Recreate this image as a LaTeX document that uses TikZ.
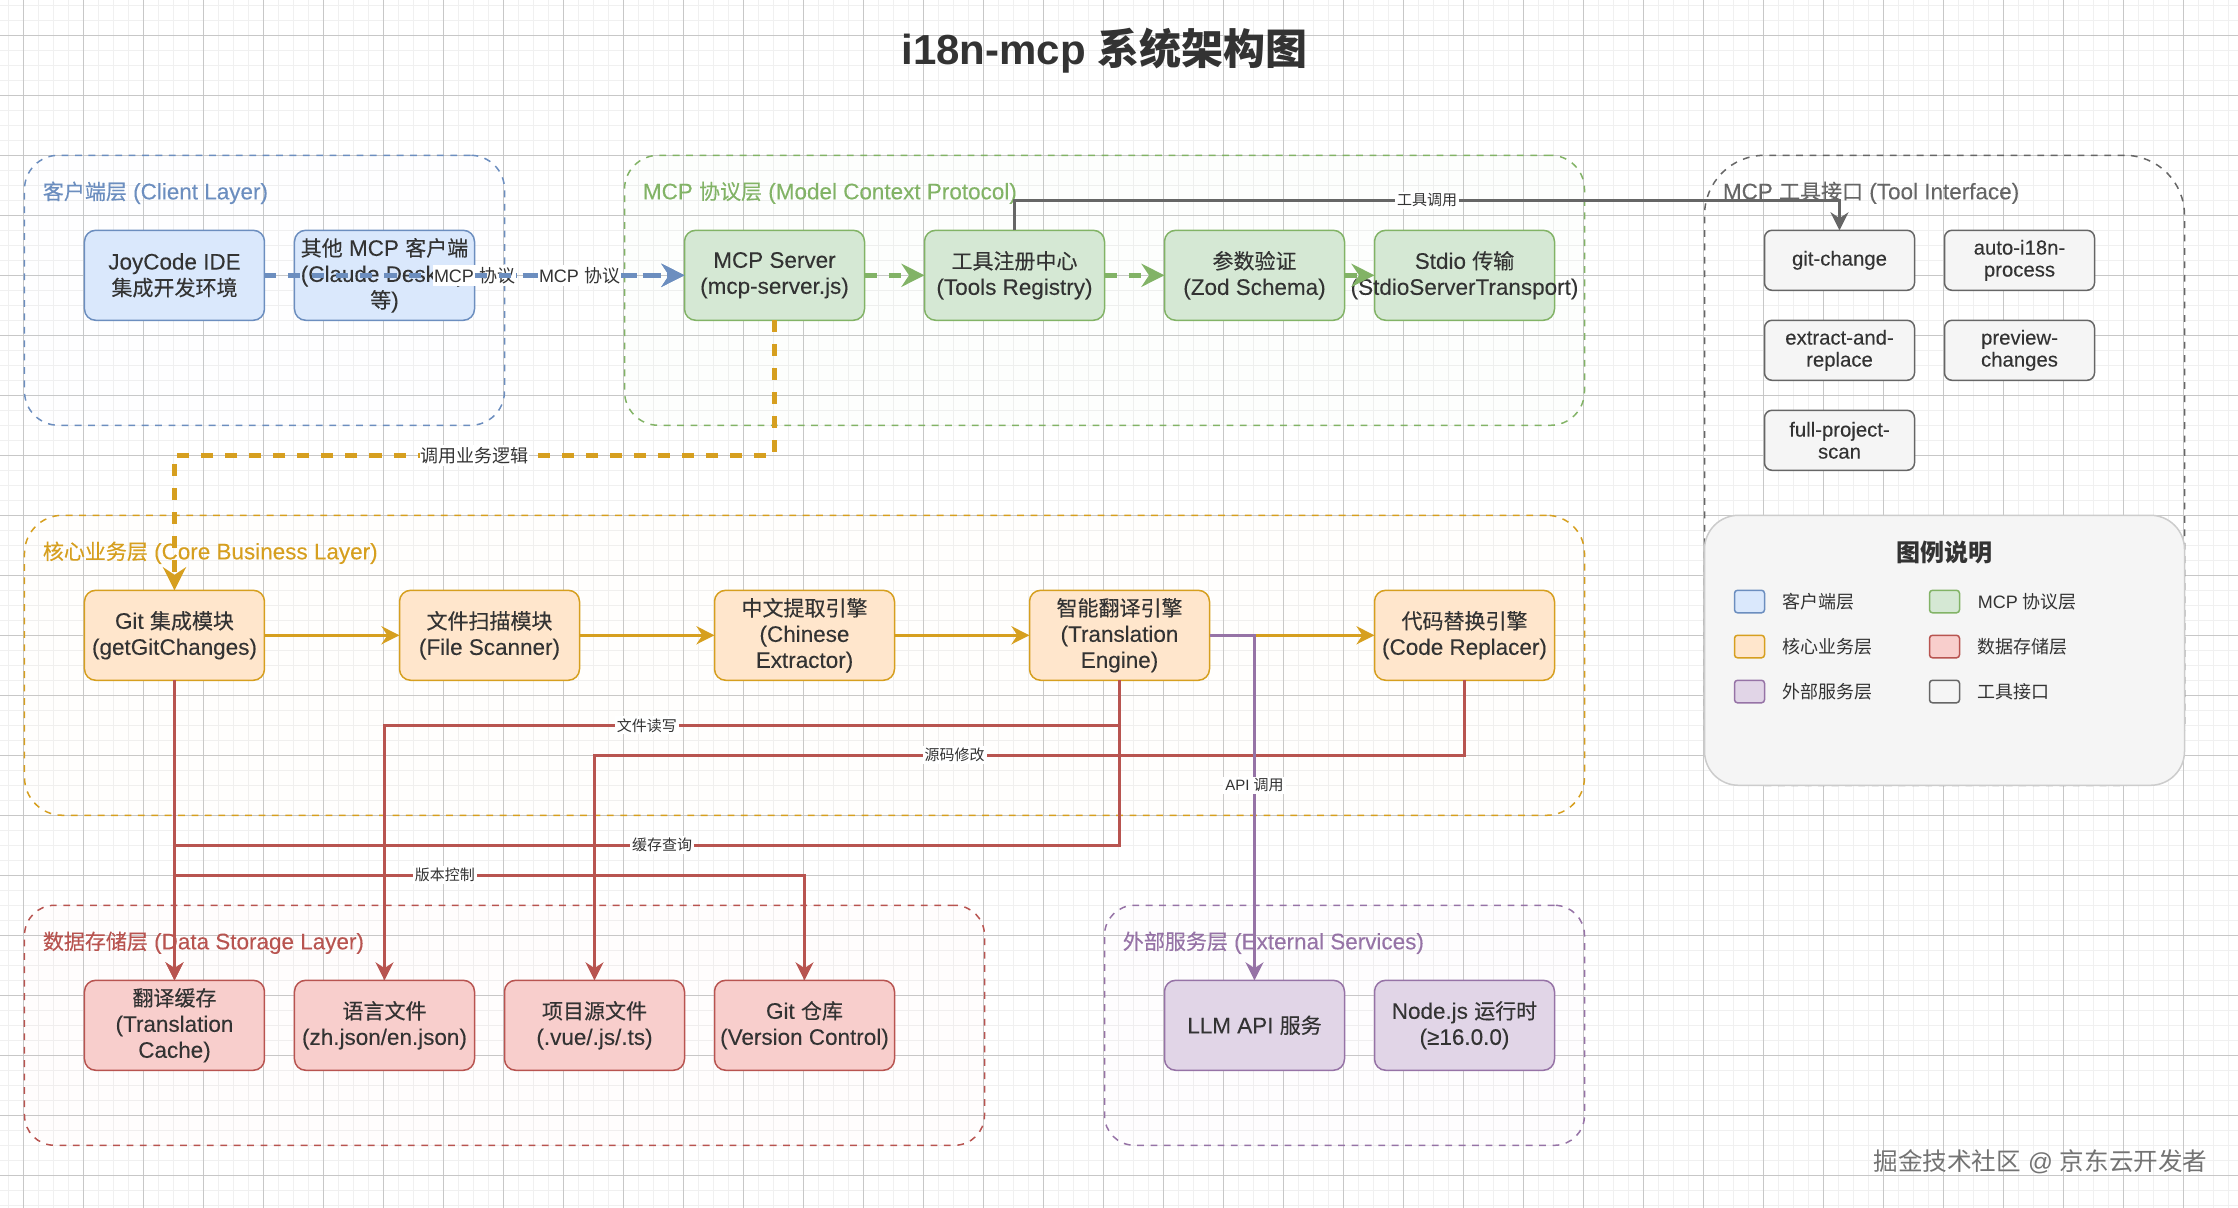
\documentclass[tikz,border=0pt]{standalone}
\usepackage{fontspec}
\usetikzlibrary{positioning,arrows.meta}
\setmainfont{Liberation Sans}
\newfontfamily\cnplain{Noto Sans CJK SC}
\newfontfamily\cnmed[FakeBold=.25]{Noto Sans CJK SC}
\newfontfamily\mainmed[FakeBold=.15,Scale=1.07]{Liberation Sans}
\let\cnfont\cnplain
\newcommand{\cn}[1]{{\cnfont #1}}
\newcommand{\medtext}{\mainmed\let\cnfont\cnmed}
\definecolor{bluefill}{HTML}{DAE8FC}
\definecolor{blueline}{HTML}{6C8EBF}
\definecolor{greenfill}{HTML}{D5E8D4}
\definecolor{greenline}{HTML}{82B366}
\definecolor{goldfill}{HTML}{FFE6CC}
\definecolor{goldline}{HTML}{D69F1F}
\definecolor{redfill}{HTML}{F8CECC}
\definecolor{redline}{HTML}{B85450}
\definecolor{purplefill}{HTML}{E1D5E7}
\definecolor{purpleline}{HTML}{9673A6}
\definecolor{grayfill}{HTML}{F5F5F5}
\definecolor{grayline}{HTML}{666666}
\definecolor{inktext}{HTML}{333333}
\tikzset{
	layerbox/.style={draw=#1,line width=.75pt,dash pattern=on 3.4pt off 3.3pt,fill opacity=.04,inner sep=0pt,outer sep=0pt,anchor=north west},
	layertitle/.style={text=#1,anchor=west,inner sep=0pt,font=\medtext\fontsize{10.5}{13}\selectfont},
	box/.style={draw=#1,rounded corners=5.6pt,line width=.75pt,minimum width=90pt,minimum height=45pt,inner sep=0pt,outer sep=0pt,align=center,text=inktext,font=\medtext\fontsize{10.5}{13}\selectfont},
	toolbox/.style={draw=grayline,fill=grayfill,rounded corners=3.75pt,line width=.75pt,minimum width=75pt,minimum height=30pt,inner sep=0pt,outer sep=0pt,align=center,text=inktext,font=\medtext\fontsize{9.5}{11}\selectfont},
	thickedge/.style={draw=#1,line width=2.25pt,dash pattern=on 6pt off 6pt,-{Stealth[length=11.5pt,width=11.5pt]}},
	solidedge/.style={draw=#1,line width=1.5pt,-{Stealth[length=9pt,width=9pt]}},
	biglabel/.style={fill=white,inner xsep=.4pt,inner ysep=1pt,text=inktext,font=\fontsize{9}{11}\selectfont},
	smalllabel/.style={fill=white,inner sep=1pt,text=inktext,font=\fontsize{7.5}{9}\selectfont},
	swatch/.style={draw=#1,rounded corners=1.5pt,line width=.75pt,minimum width=15pt,minimum height=11.25pt,inner sep=0pt,outer sep=0pt},
	legendtext/.style={text=inktext,anchor=west,inner sep=0pt,font=\fontsize{9}{11}\selectfont},
}
\begin{document}
\begin{tikzpicture}[x=.75pt,y=-.75pt]
	\useasboundingbox (-16.33,-103.53) rectangle (1475.67,701.8);
	\clip (-16.33,-103.53) rectangle (1475.67,701.8);
	\begin{scope}[y=.75pt,xshift=-.5pt]
		\draw[step=10,draw=black!6,line width=.5pt] (-20,-710) grid (1480,110);
		\draw[step=40,draw=black!22,line width=.5pt] (-20,-710) grid (1480,110);
	\end{scope}

	\node[text=inktext,font=\fontsize{21}{25}\selectfont\bfseries] (title) at (720,-70) {i18n-mcp \cn{系统架构图}};

	% layers
	\node[layerbox=blueline,fill=bluefill,rounded corners=17pt,minimum width=240pt,minimum height=135pt] (clientlayer) at (0,0) {};
	\node[layerbox=greenline,fill=greenfill,rounded corners=17pt,minimum width=480pt,minimum height=135pt] (mcplayer) at (400,0) {};
	\node[layerbox=grayline,rounded corners=30pt,minimum width=240pt,minimum height=315pt] (toollayer) at (1120,0) {};
	\node[layerbox=goldline,fill=goldfill,rounded corners=19pt,minimum width=780pt,minimum height=150pt] (corelayer) at (0,240) {};
	\node[layerbox=redline,fill=redfill,rounded corners=15pt,minimum width=480pt,minimum height=120pt] (datalayer) at (0,500) {};
	\node[layerbox=purpleline,fill=purplefill,rounded corners=15pt,minimum width=240pt,minimum height=120pt] (extlayer) at (720,500) {};

	\node[layertitle=blueline] (clienttitle) at (12,25) {\cn{客户端层} (Client Layer)};
	\node[layertitle=greenline] (mcptitle) at (412,25) {MCP \cn{协议层} (Model Context Protocol)};
	\node[layertitle=grayline] (tooltitle) at (1132,25) {MCP \cn{工具接口} (Tool Interface)};
	\node[layertitle=goldline] (coretitle) at (12,265) {\cn{核心业务层} (Core Business Layer)};
	\node[layertitle=redline] (datatitle) at (12,525) {\cn{数据存储层} (Data Storage Layer)};
	\node[layertitle=purpleline] (exttitle) at (732,525) {\cn{外部服务层} (External Services)};

	% client
	\node[box=blueline,fill=bluefill] (joycode) at (100,80) {JoyCode IDE\\\cn{集成开发环境}};
	\node[box=blueline,fill=bluefill,right=15pt of joycode] (otherclient) {\cn{其他} MCP \cn{客户端}\\(Claude Desktop\\\cn{等})};

	% mcp
	\node[box=greenline,fill=greenfill] (server) at (500,80) {MCP Server\\(mcp-server.js)};
	\node[box=greenline,fill=greenfill,right=30pt of server] (registry) {\cn{工具注册中心}\\(Tools Registry)};
	\node[box=greenline,fill=greenfill,right=30pt of registry] (validate) {\cn{参数验证}\\(Zod Schema)};
	\node[box=greenline,fill=greenfill,right=15pt of validate] (stdio) {Stdio \cn{传输}\\\makebox[0pt]{(StdioServerTransport)}};

	% tools
	\node[toolbox] (gitchange) at (1210,70) {git-change};
	\node[toolbox,right=15pt of gitchange] (autoproc) {auto-i18n-\\process};
	\node[toolbox,below=15pt of gitchange] (extract) {extract-and-\\replace};
	\node[toolbox,right=15pt of extract] (preview) {preview-\\changes};
	\node[toolbox,below=15pt of extract] (fullscan) {full-project-\\scan};

	% core
	\node[box=goldline,fill=goldfill] (gitmod) at (100,320) {Git \cn{集成模块}\\(getGitChanges)};
	\node[box=goldline,fill=goldfill,right=67.5pt of gitmod] (scanner) {\cn{文件扫描模块}\\(File Scanner)};
	\node[box=goldline,fill=goldfill,right=67.5pt of scanner] (extractor) {\cn{中文提取引擎}\\(Chinese\\Extractor)};
	\node[box=goldline,fill=goldfill,right=67.5pt of extractor] (engine) {\cn{智能翻译引擎}\\(Translation\\Engine)};
	\node[box=goldline,fill=goldfill,right=82.5pt of engine] (replacer) {\cn{代码替换引擎}\\(Code Replacer)};

	% data
	\node[box=redline,fill=redfill] (cache) at (100,580) {\cn{翻译缓存}\\(Translation\\Cache)};
	\node[box=redline,fill=redfill,right=15pt of cache] (langfile) {\cn{语言文件}\\(zh.json/en.json)};
	\node[box=redline,fill=redfill,right=15pt of langfile] (srcfile) {\cn{项目源文件}\\(.vue/.js/.ts)};
	\node[box=redline,fill=redfill,right=15pt of srcfile] (gitrepo) {Git \cn{仓库}\\(Version Control)};

	% external
	\node[box=purpleline,fill=purplefill] (llm) at (820,580) {LLM API \cn{服务}};
	\node[box=purpleline,fill=purplefill,right=15pt of llm] (nodejs) {Node.js \cn{运行时}\\(≥16.0.0)};

	% edges
	\begin{scope}[yshift=.5pt,xshift=-.25pt]
		\draw[thickedge=blueline] (joycode.east) -- node[biglabel] (labela) {MCP \cn{协议}} (server.west);
		\draw[thickedge=blueline] (otherclient.east) -- node[biglabel] (labelb) {MCP \cn{协议}} (server.west);
		\draw[thickedge=greenline] (server.east) -- (registry.west);
		\draw[thickedge=greenline] (registry.east) -- (validate.west);
		\draw[thickedge=greenline] (validate.east) -- (stdio.west);
		\draw[thickedge=goldline] (server.south) -- ++(0,90) -- node[biglabel] (labelc) {\cn{调用业务逻辑}} ++(-400,0) -- (gitmod.north);
		\draw[solidedge=grayline] (registry.north) -- ++(0,-20) -- node[smalllabel] (labeld) {\cn{工具调用}} ++(550,0) -- (gitchange.north);

		\draw[solidedge=goldline] (gitmod.east) -- (scanner.west);
		\draw[solidedge=goldline] (scanner.east) -- (extractor.west);
		\draw[solidedge=goldline] (extractor.east) -- (engine.west);
		\draw[solidedge=goldline] (engine.east) -- (replacer.west);

		\draw[solidedge=redline] (gitmod.south) -- (cache.north);
		\draw[solidedge=redline] (gitmod.south) -- ++(0,130) -- node[smalllabel,pos=.429] (labele) {\cn{版本控制}} ++(420,0) -- (gitrepo.north);
		\draw[solidedge=redline] (engine.south) -- ++(0,110) -- node[smalllabel,pos=.484] (labelf) {\cn{缓存查询}} ++(-630,0) -- (cache.north);
		\draw[solidedge=redline] (engine.south) -- ++(0,30) -- node[smalllabel,pos=.643] (labelg) {\cn{文件读写}} ++(-490,0) -- (langfile.north);
		\draw[solidedge=redline] (replacer.south) -- ++(0,50) -- node[smalllabel,pos=.586] (labelh) {\cn{源码修改}} ++(-580,0) -- (srcfile.north);
		\draw[solidedge=purpleline] (engine.east) -- ++(30,0) -- node[smalllabel,pos=.435] (labeli) {API \cn{调用}} (llm.north);
	\end{scope}

	% legend
	\node[draw=black!20,fill=grayfill,rounded corners=17pt,line width=.75pt,inner sep=0pt,outer sep=0pt,anchor=north west,minimum width=240pt,minimum height=135pt] (legend) at (1120,240) {};
	\node[text=inktext,font=\fontsize{12}{14}\selectfont\bfseries] (legendtitle) at (1280,265) {\cn{图例说明}};
	\node[swatch=blueline,fill=bluefill] (keyclient) at (1150,297.5) {};
	\node[swatch=greenline,fill=greenfill] (keymcp) at (1280,297.5) {};
	\node[swatch=goldline,fill=goldfill] (keycore) at (1150,327.5) {};
	\node[swatch=redline,fill=redfill] (keydata) at (1280,327.5) {};
	\node[swatch=purpleline,fill=purplefill] (keyext) at (1150,357.5) {};
	\node[swatch=grayline,fill=grayfill] (keytool) at (1280,357.5) {};
	\node[legendtext,right=9pt of keyclient] (textclient) {\cn{客户端层}};
	\node[legendtext,right=9pt of keymcp] (textmcp) {MCP \cn{协议层}};
	\node[legendtext,right=9pt of keycore] (textcore) {\cn{核心业务层}};
	\node[legendtext,right=9pt of keydata] (textdata) {\cn{数据存储层}};
	\node[legendtext,right=9pt of keyext] (textext) {\cn{外部服务层}};
	\node[legendtext,right=9pt of keytool] (texttool) {\cn{工具接口}};

	\node[text=black!55,font=\fontsize{12.3}{14}\selectfont] (watermark) at (1344,671) {\cn{掘金技术社区} @ \cn{京东云开发者}};
\end{tikzpicture}
\end{document}
